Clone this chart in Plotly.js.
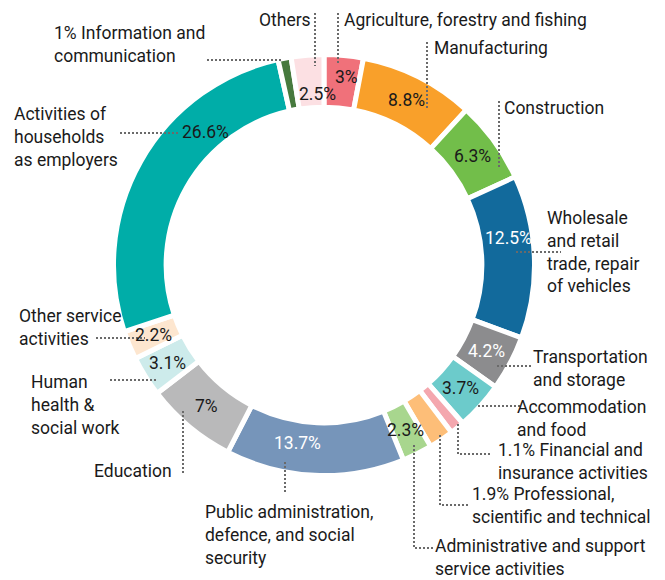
<!DOCTYPE html>
<html>
<head>
<meta charset="utf-8">
<script src="https://cdn.plot.ly/plotly-3.0.1.min.js"></script>
<style>html,body{margin:0;padding:0;background:#fff;}#chart{width:665px;height:580px;}</style>
</head>
<body>
<div id="chart"></div>
<script>
// ---- data ----
var categories = [
  "Agriculture, forestry and fishing", "Manufacturing", "Construction",
  "Wholesale and retail trade, repair of vehicles", "Transportation and storage",
  "Accommodation and food", "Financial and insurance activities",
  "Professional, scientific and technical", "Administrative and support service activities",
  "Public administration, defence, and social security", "Education",
  "Human health & social work", "Other service activities",
  "Activities of households as employers", "Information and communication", "Others"
];
var shares = [3, 8.8, 6.3, 12.5, 4.2, 3.7, 1.1, 1.9, 2.3, 13.7, 7, 3.1, 2.2, 26.6, 1, 2.5];
var showInside = [true, true, true, true, true, true, false, false, true, true, true, true, true, true, false, true];
var outsideLabels = [
  "Agriculture, forestry and fishing", "Manufacturing", "Construction",
  "Wholesale<br>and retail<br>trade, repair<br>of vehicles", "Transportation<br>and storage",
  "Accommodation<br>and food", "1.1% Financial and<br>insurance activities",
  "1.9% Professional,<br>scientific and technical", "Administrative and support<br>service activities",
  "Public administration,<br>defence, and social<br>security", "Education",
  "Human<br>health &<br>social work", "Other service<br>activities",
  "Activities of<br>households<br>as employers", "1% Information and<br>communication", "Others"
];

// ---- style ----
var colors = ["#F0717A", "#F9A02A", "#72BE4A", "#126A9C", "#8C8C8E", "#6CCBCB", "#F4A7AE",
  "#FDBE78", "#A8D68E", "#7695BA", "#B9B9BA", "#CDEBEB", "#FDE6CF", "#00ADA8", "#477A3E", "#FCE0E3"];
var whiteText = [false, false, false, true, true, false, false, false, false, true, false, false, false, false, false, false];

var W = 665, H = 580;
var CX = 324, CY = 265, R = 210.5, HOLE = 0.75;
function px(x) { return x / W; }
function py(y) { return 1 - y / H; }

// label layout (pixel positions of outside labels and leader lines)
var labelPos = [
  [343, 20, "left"], [433, 48, "left"], [503, 108, "left"], [546, 252, "left"],
  [532, 368, "left"], [516, 418, "left"], [497, 461, "left"], [471, 505, "left"],
  [434, 557, "left"], [204, 535, "left"], [173, 471, "right"], [30, 405, "left"],
  [18, 327, "left"], [13, 137, "left"], [53, 44, "left"], [312, 20, "right"]
];
var leaders = [
  [[338, 13], [338, 64]], [[427, 42], [427, 108]], [[499, 101], [499, 168]],
  [[516, 252], [561, 252]], [[497, 366], [531, 366]], [[478, 406], [520, 406]],
  [[458, 424], [458, 454], [492, 454]], [[440, 435], [440, 505], [468, 505]],
  [[414, 445], [414, 548], [434, 548]], [[285, 462], [285, 494]], [[183, 411], [183, 474]],
  [[110, 380], [157, 380]], [[96, 338], [145, 338]], [[120, 133], [180, 133]],
  [[207, 60], [282, 60]], [[315, 13], [315, 66]]
];
// inside label placement overrides: index -> [angle deg clockwise from top, radius px]
var insideOverride = {0: [6.7, 189], 3: [81.7, 186], 9: [188.6, 180], 13: [318.2, 178], 15: [357.7, 171]};

var FONT = "Roboto, 'Open Sans', Arial, sans-serif";
var FS = 17.5;

var trace = {
  type: "pie",
  labels: categories,
  values: shares,
  sort: false,
  direction: "clockwise",
  rotation: 0,
  hole: HOLE,
  textinfo: "none",
  hoverinfo: "label+value",
  showlegend: false,
  marker: {colors: colors, line: {color: "#ffffff", width: 5}},
  domain: {x: [px(CX - R), px(CX + R)], y: [py(CY + R), py(CY - R)]}
};

var annotations = [];
var total = shares.reduce(function (a, b) { return a + b; }, 0);
var cum = 0;
var midR = R * (1 + HOLE) / 2;
for (var i = 0; i < shares.length; i++) {
  var mid = (cum + shares[i] / 2) / total * 360;
  cum += shares[i];
  if (!showInside[i]) continue;
  var ang = mid, rr = midR;
  if (insideOverride[i]) { ang = insideOverride[i][0]; rr = insideOverride[i][1]; }
  var a = ang * Math.PI / 180;
  annotations.push({
    xref: "paper", yref: "paper",
    x: px(CX + rr * Math.sin(a)), y: py(CY - rr * Math.cos(a)),
    xanchor: "center", yanchor: "middle", showarrow: false,
    text: shares[i] + "%",
    font: {family: FONT, size: FS, color: whiteText[i] ? "#ffffff" : "#1a1a1a"}
  });
}
for (var j = 0; j < outsideLabels.length; j++) {
  var lp = labelPos[j];
  annotations.push({
    xref: "paper", yref: "paper",
    x: px(lp[0]), y: py(lp[1]),
    xanchor: lp[2], yanchor: "middle", align: "left", showarrow: false,
    borderpad: 0,
    text: outsideLabels[j],
    font: {family: FONT, size: FS, color: "#1a1a1a"}
  });
}

var shapes = leaders.map(function (pts) {
  var d = pts.map(function (p, k) { return (k ? "L" : "M") + px(p[0]) + "," + py(p[1]); }).join(" ");
  return {type: "path", xref: "paper", yref: "paper", path: d,
    line: {color: "#6a6a6a", width: 2, dash: "2px,2px"}};
});

var layout = {
  width: W, height: H,
  margin: {l: 0, r: 0, t: 0, b: 0},
  paper_bgcolor: "#ffffff",
  font: {family: FONT, size: FS, color: "#1a1a1a"},
  annotations: annotations,
  shapes: shapes
};

Plotly.newPlot("chart", [trace], layout, {displayModeBar: false, staticPlot: true});
</script>
</body>
</html>
